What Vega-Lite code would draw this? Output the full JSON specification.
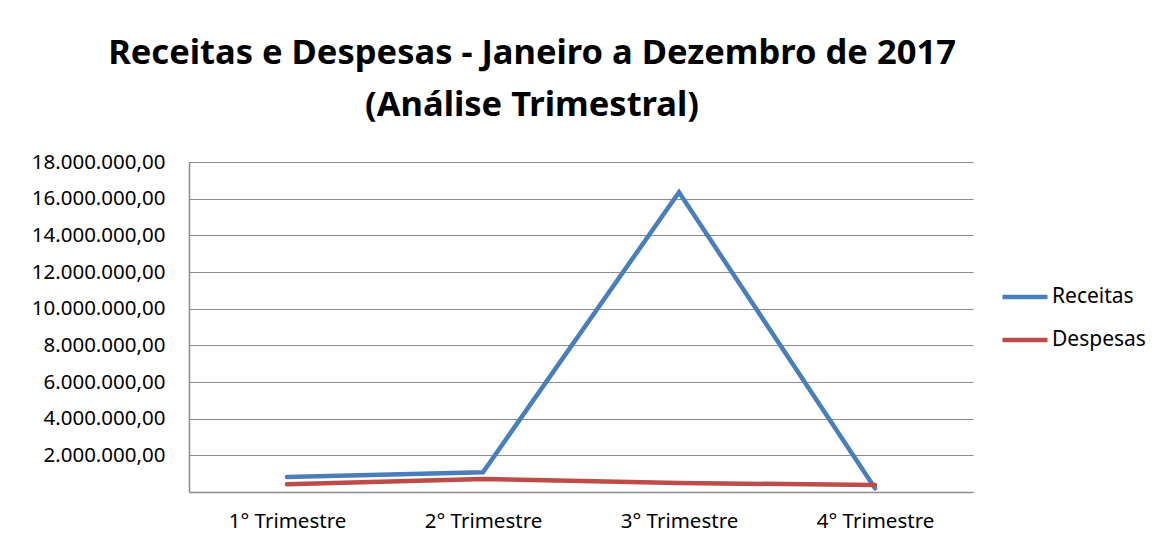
{
  "$schema": "https://vega.github.io/schema/vega-lite/v6.json",
  "width": 784,
  "height": 330,
  "autosize": {"type": "none"},
  "padding": {"left": 189, "top": 162, "right": 197, "bottom": 53},
  "background": "white",
  "config": {"view": {"stroke": null}, "font": "Noto Sans"},
  "title": {
    "text": ["Receitas e Despesas - Janeiro a Dezembro de 2017", "(Análise Trimestral)"],
    "font": "Noto Sans",
    "fontSize": 34.5,
    "fontWeight": "bold",
    "color": "black",
    "anchor": "middle",
    "frame": "group",
    "dx": -49,
    "lineHeight": 52,
    "offset": 29
  },
  "data": {
    "values": [
      {"trimestre": "1° Trimestre", "serie": "Receitas", "valor": 820000},
      {"trimestre": "2° Trimestre", "serie": "Receitas", "valor": 1080000},
      {"trimestre": "3° Trimestre", "serie": "Receitas", "valor": 16350000},
      {"trimestre": "4° Trimestre", "serie": "Receitas", "valor": 200000},
      {"trimestre": "1° Trimestre", "serie": "Despesas", "valor": 420000},
      {"trimestre": "2° Trimestre", "serie": "Despesas", "valor": 710000},
      {"trimestre": "3° Trimestre", "serie": "Despesas", "valor": 490000},
      {"trimestre": "4° Trimestre", "serie": "Despesas", "valor": 380000}
    ]
  },
  "mark": {"type": "line", "strokeWidth": 4.5, "strokeCap": "round", "strokeJoin": "miter"},
  "encoding": {
    "x": {
      "field": "trimestre",
      "type": "ordinal",
      "sort": null,
      "scale": {"type": "point", "padding": 0.5},
      "axis": {
        "title": null,
        "labelAngle": 0,
        "labelFont": "Noto Sans",
        "labelFontSize": 20.5,
        "labelColor": "black",
        "ticks": false,
        "domainColor": "#8c8c8c",
        "domainWidth": 1.5,
        "labelPadding": 19
      }
    },
    "y": {
      "field": "valor",
      "type": "quantitative",
      "scale": {"domain": [0, 18000000], "nice": false, "zero": true},
      "axis": {
        "title": null,
        "values": [0, 2000000, 4000000, 6000000, 8000000, 10000000, 12000000, 14000000, 16000000, 18000000],
        "labelExpr": "datum.value == 0 ? '' : format(datum.value / 1000000, 'd') + '.000.000,00'",
        "labelFont": "Noto Sans",
        "labelFontSize": 20.5,
        "labelColor": "black",
        "labelPadding": 24,
        "ticks": false,
        "grid": true,
        "gridColor": "#8c8c8c",
        "gridWidth": 1.2,
        "domain": true,
        "domainColor": "#8c8c8c",
        "domainWidth": 1.5
      }
    },
    "color": {
      "field": "serie",
      "type": "nominal",
      "sort": ["Receitas", "Despesas"],
      "scale": {"domain": ["Receitas", "Despesas"], "range": ["#4A7EBB", "#BE4B48"]},
      "legend": {
        "title": null,
        "orient": "none",
        "legendX": 811,
        "legendY": 110,
        "symbolType": "stroke",
        "symbolSize": 2025,
        "symbolStrokeWidth": 4.5,
        "labelFont": "Noto Sans",
        "labelFontSize": 21,
        "labelColor": "black",
        "labelOffset": 2,
        "rowPadding": 8
      }
    }
  }
}
